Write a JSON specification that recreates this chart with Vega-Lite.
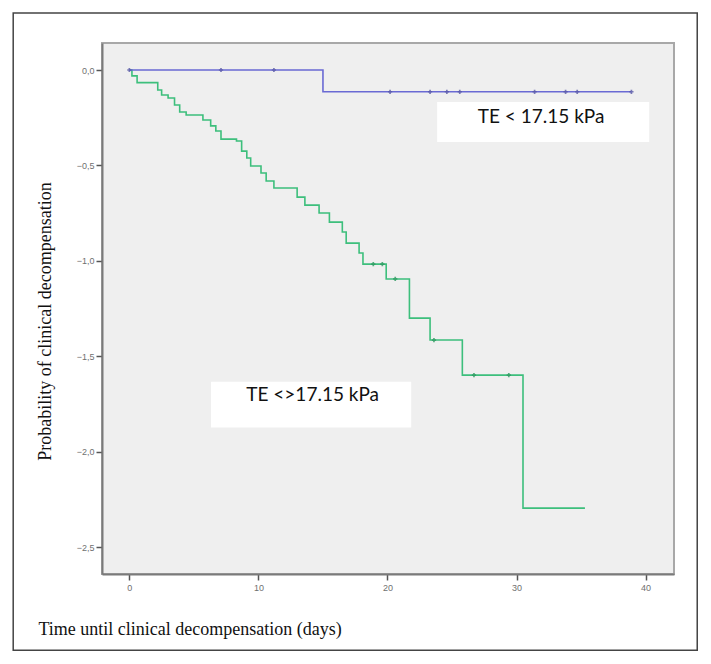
{
  "$schema": "https://vega.github.io/schema/vega-lite/v6.json",
  "width": 572,
  "height": 531,
  "autosize": {"type": "none"},
  "padding": {"left": 102, "top": 43, "right": 37, "bottom": 90},
  "background": "white",
  "config": {
    "view": {"stroke": "#a8a8a8", "strokeWidth": 2, "fill": "#efefef"},
    "axis": {
      "domainColor": "#7a7a7a", "domainWidth": 2,
      "tickColor": "#555555", "tickWidth": 1.5, "tickSize": 6,
      "grid": false,
      "labelFont": "Liberation Sans", "labelFontSize": 9, "labelColor": "#707070",
      "titleFont": "Liberation Serif", "titleFontSize": 18, "titleFontWeight": "normal", "titleColor": "#111111"
    }
  },
  "datasets": {
    "frame": [{"x": -9.0, "x2": 44.0, "y": 0.2987, "y2": -3.04}],
    "boxes": [
      {"x": 23.85, "x2": 40.28, "y": -0.168, "y2": -0.377},
      {"x": 6.33, "x2": 21.84, "y": -1.634, "y2": -1.873}
    ],
    "low": [
      {"x": 0, "y": 0},
      {"x": 15.0, "y": -0.114},
      {"x": 38.9, "y": -0.114}
    ],
    "high": [
      {"x": 0, "y": 0},
      {"x": 0.2, "y": -0.031},
      {"x": 0.6, "y": -0.066},
      {"x": 2.2, "y": -0.105},
      {"x": 2.5, "y": -0.131},
      {"x": 3.0, "y": -0.147},
      {"x": 3.5, "y": -0.183},
      {"x": 3.9, "y": -0.22},
      {"x": 4.4, "y": -0.236},
      {"x": 5.7, "y": -0.262},
      {"x": 6.3, "y": -0.293},
      {"x": 6.7, "y": -0.32},
      {"x": 7.1, "y": -0.362},
      {"x": 8.3, "y": -0.372},
      {"x": 8.7, "y": -0.425},
      {"x": 9.1, "y": -0.461},
      {"x": 9.4, "y": -0.503},
      {"x": 10.2, "y": -0.54},
      {"x": 10.6, "y": -0.582},
      {"x": 11.2, "y": -0.618},
      {"x": 13.0, "y": -0.666},
      {"x": 13.6, "y": -0.708},
      {"x": 14.7, "y": -0.749},
      {"x": 15.5, "y": -0.797},
      {"x": 16.5, "y": -0.849},
      {"x": 16.8, "y": -0.907},
      {"x": 17.8, "y": -0.959},
      {"x": 18.1, "y": -1.017},
      {"x": 19.9, "y": -1.095},
      {"x": 21.7, "y": -1.30},
      {"x": 23.3, "y": -1.415},
      {"x": 25.8, "y": -1.599},
      {"x": 30.5, "y": -2.296},
      {"x": 35.3, "y": -2.296}
    ],
    "censLow": [
      {"x": 0, "y": 0}, {"x": 7.1, "y": 0}, {"x": 11.2, "y": 0},
      {"x": 20.2, "y": -0.114}, {"x": 23.3, "y": -0.114}, {"x": 24.6, "y": -0.114},
      {"x": 25.6, "y": -0.114}, {"x": 31.4, "y": -0.114}, {"x": 33.8, "y": -0.114},
      {"x": 34.7, "y": -0.114}, {"x": 38.9, "y": -0.114}
    ],
    "censHigh": [
      {"x": 18.9, "y": -1.017}, {"x": 19.6, "y": -1.017}, {"x": 20.6, "y": -1.095},
      {"x": 23.6, "y": -1.415}, {"x": 26.7, "y": -1.599}, {"x": 29.4, "y": -1.599}
    ],
    "labels": [
      {"x": 31.9, "y": -0.278, "label": "TE < 17.15 kPa"},
      {"x": 14.2, "y": -1.735, "label": "TE <>17.15 kPa"}
    ]
  },
  "encoding": {
    "x": {"field": "x", "type": "quantitative",
          "scale": {"domain": [-2.12, 42.2], "nice": false, "zero": false},
          "axis": {"values": [0, 10, 20, 30, 40], "title": "Time until clinical decompensation (days)",
                   "titleX": -64, "titleY": 60, "titleAlign": "left", "titleBaseline": "alphabetic",
                   "labelPadding": 3}},
    "y": {"field": "y", "type": "quantitative",
          "scale": {"domain": [-2.641, 0.1415], "nice": false, "zero": false},
          "axis": {"values": [0, -0.5, -1, -1.5, -2, -2.5], "title": "Probability of clinical decompensation",
                   "labelExpr": "replace(format(datum.value, '.1f'), '.', ',')",
                   "titleX": -57, "titleY": 278, "titleAlign": "center", "titleBaseline": "middle",
                   "labelPadding": 2}}
  },
  "layer": [
    {
      "data": {"name": "frame"},
      "mark": {"type": "rect", "fill": null, "fillOpacity": 0, "stroke": "#444444", "strokeWidth": 1.5},
      "encoding": {"x2": {"field": "x2"}, "y2": {"field": "y2"}}
    },
    {
      "data": {"name": "boxes"},
      "mark": {"type": "rect", "fill": "white"},
      "encoding": {"x2": {"field": "x2"}, "y2": {"field": "y2"}}
    },
    {
      "data": {"name": "high"},
      "mark": {"type": "line", "interpolate": "step-after", "color": "#3dbf7c", "strokeWidth": 1.6},
      "encoding": {}
    },
    {
      "data": {"name": "low"},
      "mark": {"type": "line", "interpolate": "step-after", "color": "#6a6ad4", "strokeWidth": 1.6},
      "encoding": {}
    },
    {
      "data": {"name": "censLow"},
      "mark": {"type": "point", "shape": "cross", "filled": true, "size": 18, "color": "#5a5aa8", "opacity": 0.8},
      "encoding": {}
    },
    {
      "data": {"name": "censHigh"},
      "mark": {"type": "point", "shape": "cross", "filled": true, "size": 18, "color": "#2f9a62", "opacity": 0.8},
      "encoding": {}
    },
    {
      "data": {"name": "labels"},
      "mark": {"type": "text", "font": "Lato", "fontSize": 19, "color": "#111111", "align": "center", "baseline": "alphabetic"},
      "encoding": {"text": {"field": "label"}}
    }
  ]
}
